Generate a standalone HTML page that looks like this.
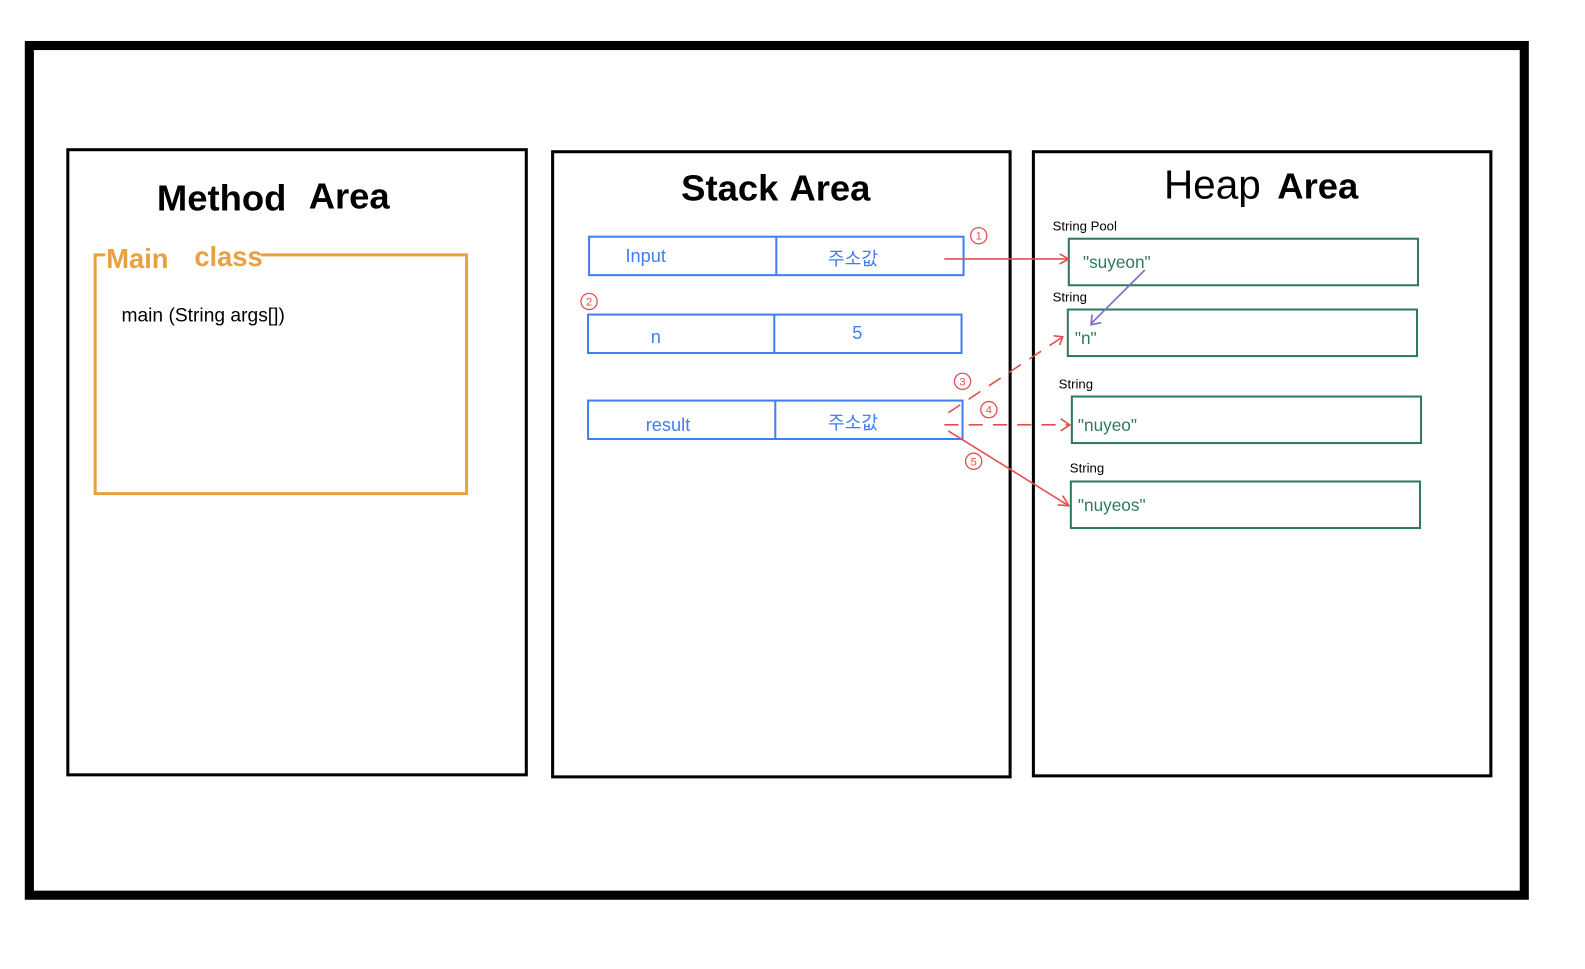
<!DOCTYPE html>
<html><head><meta charset="utf-8"><style>
body{margin:0;width:1585px;height:964px;background:#fff;overflow:hidden;font-family:"Liberation Sans","Noto Sans CJK KR",sans-serif}
</style></head><body>
<svg width="1585" height="964" viewBox="0 0 1566 953" preserveAspectRatio="none" xmlns="http://www.w3.org/2000/svg" font-family="Liberation Sans, Noto Sans CJK KR, sans-serif">
<rect x="29" y="45" width="1477" height="840" fill="none" stroke="#000" stroke-width="9"/>
<rect x="67" y="148" width="453" height="618" fill="none" stroke="#000" stroke-width="3"/>
<rect x="546" y="150" width="452" height="618" fill="none" stroke="#000" stroke-width="3"/>
<rect x="1021" y="150" width="452" height="617" fill="none" stroke="#000" stroke-width="3"/>
<text x="155" y="208" font-size="36" font-weight="bold">Method</text>
<text x="305" y="206" font-size="36" font-weight="bold">Area</text>
<text x="673" y="198" font-size="36" font-weight="bold">Stack</text>
<text x="780" y="198" font-size="36" font-weight="bold">Area</text>
<text x="1150" y="196" font-size="40">Heap</text>
<text x="1262" y="196" font-size="36" font-weight="bold">Area</text>
<path d="M104 252 H94 V488 H461 V252 H258" fill="none" stroke="#e8a040" stroke-width="3"/>
<text x="105" y="265" font-size="27" fill="#e8a040" font-weight="bold">Main</text>
<text x="192" y="263" font-size="27" fill="#e8a040" font-weight="bold">class</text>
<text x="120" y="318" font-size="19">main (String args[])</text>
<g fill="none" stroke="#3f7ff0" stroke-width="2">
<rect x="582" y="234" width="370" height="38"/><line x1="767" y1="234" x2="767" y2="272"/>
<rect x="581" y="311" width="369" height="38"/><line x1="765" y1="311" x2="765" y2="349"/>
<rect x="581" y="396" width="370" height="38"/><line x1="766" y1="396" x2="766" y2="434"/>
</g>
<g fill="#3f7ff0" font-size="18">
<text x="618" y="259">Input</text><text x="818" y="262">주소값</text>
<text x="643" y="339">n</text><text x="842" y="335">5</text>
<text x="638" y="426">result</text><text x="818" y="424">주소값</text>
</g>
<g fill="none" stroke="#2d7a5a" stroke-width="2">
<rect x="1056" y="236" width="345" height="46"/>
<rect x="1055" y="306" width="345" height="46"/>
<rect x="1059" y="392" width="345" height="46"/>
<rect x="1058" y="476" width="345" height="46"/>
</g>
<g fill="#2d7a5a" font-size="17">
<text x="1070" y="265">"suyeon"</text><text x="1062" y="340">"n"</text>
<text x="1065" y="426">"nuyeo"</text><text x="1065" y="505">"nuyeos"</text>
</g>
<g font-size="13" fill="#000">
<text x="1040" y="228">String  Pool</text><text x="1040" y="298">String</text>
<text x="1046" y="384">String</text><text x="1057" y="467">String</text>
</g>
<g stroke="#e05050" stroke-width="1.6" fill="none">
<line x1="933" y1="256" x2="1055" y2="256"/><path d="M1047 251 L1056 256 L1047 261"/>
<line x1="937" y1="408" x2="1050" y2="333" stroke-dasharray="14 10"/><path d="M1041 332 L1050 333 L1047 341"/>
<line x1="933" y1="420" x2="1057" y2="420" stroke-dasharray="14 10"/><path d="M1048 414 L1057 420 L1048 426"/>
<line x1="937" y1="426" x2="1056" y2="500"/><path d="M1045 499 L1056 500 L1050 490"/>
</g>
<g fill="none" stroke="#e05050" stroke-width="1.3"><circle cx="967" cy="233" r="8"/><circle cx="582" cy="298" r="8"/><circle cx="951" cy="377" r="8"/><circle cx="977" cy="405" r="8"/><circle cx="962" cy="456" r="8"/></g>
<g fill="#e05050" font-size="11" text-anchor="middle"><text x="967" y="237">1</text><text x="582" y="302">2</text><text x="951" y="381">3</text><text x="977" y="409">4</text><text x="962" y="460">5</text></g>
<line x1="1131" y1="267" x2="1078" y2="320" stroke="#7a6acc" stroke-width="1.6"/>
<path d="M1079 311 L1078 321 L1088 319" fill="none" stroke="#7a6acc" stroke-width="1.6"/>
</svg>
</body></html>
